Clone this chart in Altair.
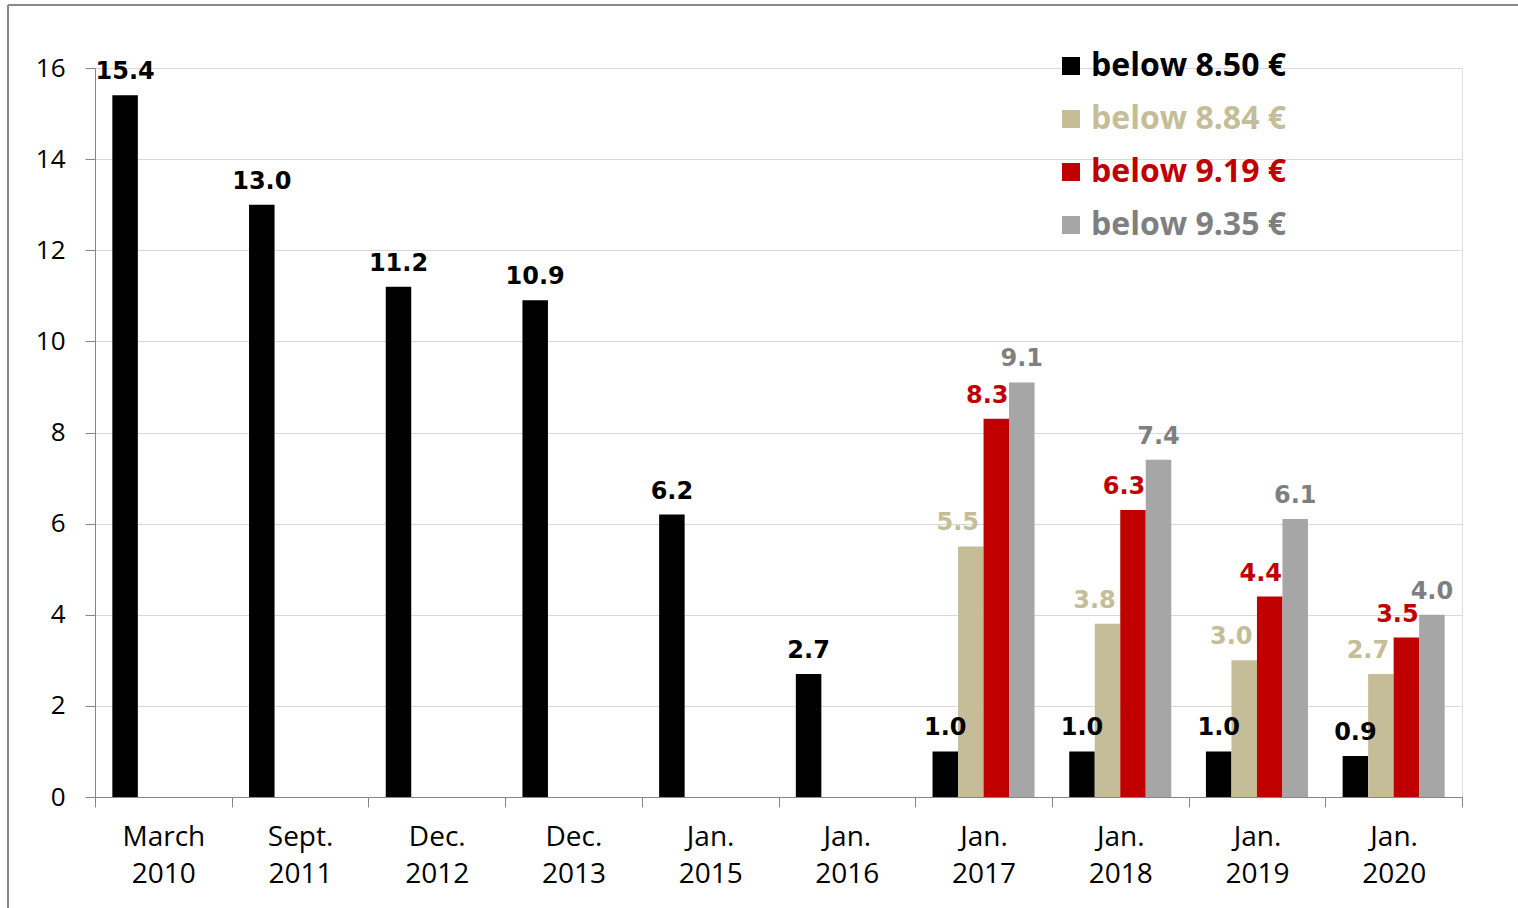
import altair as alt
import pandas as pd

# ---- data -------------------------------------------------------------
periods = ["March 2010", "Sept. 2011", "Dec. 2012", "Dec. 2013", "Jan. 2015",
           "Jan. 2016", "Jan. 2017", "Jan. 2018", "Jan. 2019", "Jan. 2020"]
series = ["below 8.50 €", "below 8.84 €", "below 9.19 €", "below 9.35 €"]
below_850 = [15.4, 13.0, 11.2, 10.9, 6.2, 2.7, 1.0, 1.0, 1.0, 0.9]
below_884 = [None, None, None, None, None, None, 5.5, 3.8, 3.0, 2.7]
below_919 = [None, None, None, None, None, None, 8.3, 6.3, 4.4, 3.5]
below_935 = [None, None, None, None, None, None, 9.1, 7.4, 6.1, 4.0]
y_ticks = [0, 2, 4, 6, 8, 10, 12, 14, 16]

# ---- styles -----------------------------------------------------------
bar_colors = ["#000000", "#C4BD97", "#C00000", "#A6A6A6"]
text_colors = ["#000000", "#C4BD97", "#C00000", "#7F7F7F"]
label_dx = [0, -13, -9, 0]
AXIS_GREY = "#868686"
GRID_GREY = "#D9D9D9"
W, H = 1367, 729

rows = []
for s, vals in zip(series, [below_850, below_884, below_919, below_935]):
    for p, v in zip(periods, vals):
        if v is not None:
            rows.append({"period": p, "series": s, "value": v})
df = pd.DataFrame(rows)
legend_df = pd.DataFrame({"series": series})

x_enc = alt.X("period:N", sort=periods,
              scale=alt.Scale(paddingInner=0, paddingOuter=0),
              axis=alt.Axis(title=None, labelAngle=0, tickBand="extent",
                            labelExpr="split(datum.label, ' ')",
                            labelFont="Open Sans", labelFontSize=28,
                            labelColor="#000000", labelLineHeight=37,
                            labelPadding=16, tickSize=10,
                            tickColor=AXIS_GREY, domainColor=AXIS_GREY,
                            grid=False))
xoff_enc = alt.XOffset("series:N", sort=series,
                       scale=alt.Scale(domain=series, paddingInner=0,
                                       paddingOuter=0.68))
y_scale = alt.Scale(domain=[0, 16], nice=False)

bars = alt.Chart(df).mark_bar().encode(
    x=x_enc,
    xOffset=xoff_enc,
    y=alt.Y("value:Q", scale=y_scale,
            axis=alt.Axis(title=None, values=y_ticks, labelFont="Open Sans",
                          labelFontSize=26, labelColor="#000000",
                          labelPadding=20, tickSize=10, tickColor=AXIS_GREY,
                          domainColor=AXIS_GREY, gridColor=GRID_GREY,
                          gridWidth=1)),
    color=alt.Color("series:N", scale=alt.Scale(domain=series, range=bar_colors),
                    legend=None),
)

layers = [bars]
for s, tc, dx in zip(series, text_colors, label_dx):
    layers.append(
        alt.Chart(df).transform_filter(alt.datum.series == s)
        .mark_text(font="DejaVu Sans", fontWeight="bold", fontSize=24,
                   baseline="alphabetic", align="center", dy=-16, dx=dx,
                   color=tc)
        .encode(x=x_enc, xOffset=xoff_enc,
                y=alt.Y("value:Q", scale=y_scale, axis=None),
                text=alt.Text("value:Q", format=".1f"))
    )

leg_y = alt.Y("series:N", sort=series,
              scale=alt.Scale(type="point", domain=series, range=[-2, 157],
                              padding=0),
              axis=None)
layers.append(
    alt.Chart(legend_df).mark_square(size=324, opacity=1).encode(
        x=alt.value(976), y=leg_y,
        color=alt.Color("series:N", scale=alt.Scale(domain=series, range=bar_colors),
                        legend=None))
)
for s, tc in zip(series, text_colors):
    layers.append(
        alt.Chart(legend_df).transform_filter(alt.datum.series == s)
        .mark_text(font="Open Sans", fontWeight="bold", fontSize=32,
                   align="left", baseline="middle", color=tc)
        .encode(x=alt.value(996), y=leg_y, text="series:N")
    )

frame = alt.Data(values=[{}])
layers.append(alt.Chart(frame).mark_rule(color="#898989", strokeWidth=2).encode(
    x=alt.value(-87), x2=alt.value(W + 60), y=alt.value(-63), y2=alt.value(-63)))
layers.append(alt.Chart(frame).mark_rule(color="#898989", strokeWidth=2).encode(
    x=alt.value(-87), x2=alt.value(-87), y=alt.value(-63), y2=alt.value(H + 120)))

chart = alt.layer(*layers).resolve_scale(y="independent").properties(
    width=W, height=H,
    autosize=alt.AutoSizeParams(type="none"),
    padding={"left": 95, "top": 68, "right": 56, "bottom": 111},
).configure_view(stroke=None).configure(background="white")

chart.save("out.html", embed_options={"renderer": "svg", "actions": False})
